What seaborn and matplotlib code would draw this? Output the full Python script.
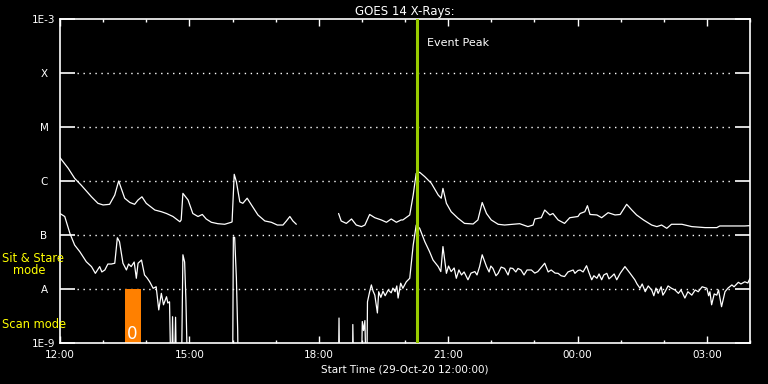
import numpy as np
import pandas as pd
import matplotlib
matplotlib.use("Agg")
import matplotlib.pyplot as plt
from matplotlib.ticker import FixedLocator, NullLocator
import seaborn as sns

# ---------------- data (hours after 29-Oct-20 12:00, flux W/m^2) ----------------
long_hours_a = [0.00, 0.19, 0.34, 0.49, 0.73, 0.88, 1.00, 1.15, 1.27, 1.36,
                1.42, 1.50, 1.62, 1.73, 1.81, 1.90, 2.00, 2.20, 2.35, 2.47,
                2.62, 2.78, 2.81, 2.85, 2.97, 3.08, 3.20, 3.30, 3.39, 3.51,
                3.66, 3.82, 3.97, 3.99, 4.04, 4.09, 4.17, 4.24, 4.34, 4.44,
                4.59, 4.75, 4.90, 5.04, 5.17, 5.25, 5.33, 5.40, 5.48]
long_flux_a = [2.70e-6, 1.72e-6, 1.12e-6, 8.4e-7, 5.1e-7, 3.86e-7, 3.6e-7, 3.7e-7, 5.5e-7, 1.0e-6,
               7.3e-7, 4.8e-7, 4.0e-7, 3.7e-7, 4.45e-7, 5.1e-7, 3.86e-7, 2.9e-7, 2.7e-7, 2.5e-7,
               2.2e-7, 1.76e-7, 1.9e-7, 5.9e-7, 4.45e-7, 2.5e-7, 2.2e-7, 2.4e-7, 1.98e-7, 1.72e-7,
               1.62e-7, 1.58e-7, 1.72e-7, 1.75e-7, 1.33e-6, 9.7e-7, 4.1e-7, 3.86e-7, 4.8e-7, 3.6e-7,
               2.35e-7, 1.82e-7, 1.72e-7, 1.53e-7, 1.53e-7, 1.82e-7, 2.2e-7, 1.82e-7, 1.58e-7]

long_hours_b = [6.46, 6.52, 6.64, 6.76, 6.87, 6.99, 7.07, 7.18, 7.30, 7.45,
                7.57, 7.68, 7.80, 7.91, 7.95, 8.11, 8.19, 8.26, 8.34, 8.46,
                8.61, 8.77, 8.84, 8.88, 8.96, 9.07, 9.23, 9.38, 9.58, 9.69,
                9.79, 9.89, 10.00, 10.16, 10.31, 10.50, 10.66, 10.85, 10.97, 11.01,
                11.16, 11.24, 11.36, 11.43, 11.55, 11.70, 11.82, 12.01, 12.06, 12.17,
                12.23, 12.29, 12.45, 12.56, 12.71, 12.87, 12.99, 13.14, 13.26, 13.37,
                13.53, 13.72, 13.84, 13.95, 14.07, 14.18, 14.42, 14.65, 14.96, 15.23,
                15.30, 15.88, 16.00]
long_flux_b = [2.5e-7, 1.82e-7, 1.64e-7, 1.98e-7, 1.53e-7, 1.43e-7, 1.53e-7, 2.4e-7, 2.09e-7, 1.9e-7,
               1.72e-7, 1.98e-7, 1.72e-7, 1.9e-7, 1.9e-7, 2.35e-7, 5.5e-7, 1.39e-6, 1.45e-6, 1.2e-6,
               9.1e-7, 5.5e-7, 4.8e-7, 7.3e-7, 3.86e-7, 2.7e-7, 2.04e-7, 1.64e-7, 1.6e-7, 1.9e-7,
               4.0e-7, 2.5e-7, 1.9e-7, 1.58e-7, 1.53e-7, 1.58e-7, 1.62e-7, 1.43e-7, 1.53e-7, 1.98e-7,
               2.09e-7, 2.9e-7, 2.35e-7, 2.5e-7, 1.9e-7, 1.64e-7, 2.09e-7, 2.2e-7, 2.5e-7, 2.7e-7,
               3.49e-7, 2.4e-7, 2.35e-7, 2.09e-7, 2.59e-7, 2.35e-7, 2.4e-7, 3.7e-7, 2.9e-7, 2.35e-7,
               1.9e-7, 1.53e-7, 1.43e-7, 1.53e-7, 1.33e-7, 1.58e-7, 1.58e-7, 1.43e-7, 1.37e-7, 1.37e-7,
               1.47e-7, 1.47e-7, 1.49e-7]

short_hours = [0.00, 0.11, 0.23, 0.34, 0.46, 0.61, 0.73, 0.82, 0.92, 0.97,
               1.04, 1.11, 1.19, 1.27, 1.33, 1.38, 1.46, 1.54, 1.59, 1.65,
               1.72, 1.77, 1.81, 1.89, 1.96, 2.02, 2.08, 2.16, 2.23, 2.29,
               2.35, 2.40, 2.47, 2.50, 2.54, 2.58, 2.61, 2.64, 2.68, 2.71,
               2.81, 2.85, 2.89, 2.92, 2.97, 4.00, 4.02, 4.05, 4.09, 4.12,
               4.14, 6.45, 6.47, 6.49, 6.78, 6.79, 6.82, 6.98, 7.01, 7.04,
               7.07, 7.11, 7.13, 7.18, 7.22, 7.26, 7.30, 7.36, 7.39, 7.44,
               7.49, 7.54, 7.61, 7.68, 7.72, 7.77, 7.81, 7.84, 7.90, 7.95,
               8.03, 8.11, 8.19, 8.26, 8.34, 8.46, 8.57, 8.65, 8.77, 8.83,
               8.88, 8.96, 9.01, 9.07, 9.14, 9.19, 9.25, 9.31, 9.37, 9.46,
               9.53, 9.62, 9.67, 9.73, 9.79, 9.89, 9.95, 9.99, 10.04, 10.11,
               10.16, 10.23, 10.31, 10.39, 10.44, 10.50, 10.57, 10.62, 10.69, 10.76,
               10.83, 10.93, 11.01, 11.08, 11.15, 11.24, 11.32, 11.39, 11.48, 11.55,
               11.62, 11.70, 11.78, 11.90, 11.94, 12.01, 12.06, 12.13, 12.21, 12.27,
               12.33, 12.38, 12.45, 12.50, 12.56, 12.61, 12.68, 12.73, 12.79, 12.85,
               12.91, 12.99, 13.10, 13.22, 13.33, 13.38, 13.45, 13.50, 13.57, 13.64,
               13.72, 13.77, 13.82, 13.87, 13.94, 13.98, 14.03, 14.10, 14.18, 14.26,
               14.34, 14.40, 14.49, 14.56, 14.65, 14.73, 14.80, 14.89, 15.00, 15.04,
               15.07, 15.11, 15.17, 15.23, 15.27, 15.34, 15.42, 15.49, 15.58, 15.63,
               15.73, 15.79, 15.88, 15.95, 16.00]
short_flux = [2.5e-7, 2.2e-7, 1.07e-7, 6.5e-8, 4.9e-8, 3.2e-8, 2.6e-8, 1.95e-8, 2.6e-8, 2.07e-8,
              2.25e-8, 2.9e-8, 2.9e-8, 3.0e-8, 8.9e-8, 7.5e-8, 3.0e-8, 2.25e-8, 2.9e-8, 2.6e-8,
              3.16e-8, 1.58e-8, 3.0e-8, 3.44e-8, 1.82e-8, 1.6e-8, 1.36e-8, 1.03e-8, 1.1e-8, 4.1e-9,
              8.3e-9, 5.1e-9, 7.2e-9, 5.5e-9, 5.8e-9, 1e-10, 3.07e-9, 1e-10, 3e-9, 1e-10,
              1e-10, 4.3e-8, 3.16e-8, 6.2e-9, 1e-10, 1e-10, 9.2e-8, 9e-8, 1.6e-8, 1.74e-9,
              1e-10, 1e-10, 2.9e-9, 1e-10, 1e-10, 2.2e-9, 1e-10, 1e-10, 2.5e-9, 1.7e-9,
              2.6e-9, 1e-10, 5.8e-9, 8.9e-9, 1.19e-8, 9.1e-9, 7.7e-9, 3.6e-9, 8.9e-9, 7.0e-9,
              9.1e-9, 7.5e-9, 9.6e-9, 8.5e-9, 1.04e-8, 8.9e-9, 1.14e-8, 6.8e-9, 1.28e-8, 1.03e-8,
              1.36e-8, 1.58e-8, 6.5e-8, 1.53e-7, 1.33e-7, 7.5e-8, 4.9e-8, 3.44e-8, 2.6e-8, 2.1e-8,
              6.1e-8, 1.95e-8, 2.66e-8, 2.1e-8, 2.45e-8, 1.58e-8, 2.25e-8, 1.82e-8, 2.07e-8, 1.48e-8,
              1.97e-8, 2.1e-8, 1.82e-8, 2.6e-8, 4.3e-8, 2.6e-8, 2.07e-8, 2.66e-8, 2.4e-8, 1.76e-8,
              1.95e-8, 2.55e-8, 2.4e-8, 1.82e-8, 2.45e-8, 2.4e-8, 2.07e-8, 2.4e-8, 2.25e-8, 1.82e-8,
              2.25e-8, 2.25e-8, 1.97e-8, 2.1e-8, 2.45e-8, 3.0e-8, 2.07e-8, 2.25e-8, 1.97e-8, 1.95e-8,
              1.76e-8, 1.7e-8, 2.07e-8, 2.25e-8, 1.95e-8, 2.2e-8, 2.25e-8, 2.07e-8, 2.7e-8, 1.97e-8,
              1.48e-8, 1.76e-8, 1.58e-8, 1.9e-8, 1.48e-8, 1.82e-8, 1.95e-8, 1.54e-8, 1.7e-8, 1.9e-8,
              1.48e-8, 1.95e-8, 2.6e-8, 1.95e-8, 1.48e-8, 1.24e-8, 1.03e-8, 1.24e-8, 8.9e-9, 1.14e-8,
              9.6e-9, 7.5e-9, 1.04e-8, 8.3e-9, 1.1e-8, 7.7e-9, 8.9e-9, 1.14e-8, 1.03e-8, 9.6e-9,
              8.3e-9, 9.6e-9, 6.8e-9, 8.9e-9, 7.7e-9, 9.6e-9, 8.9e-9, 1.1e-8, 1.03e-8, 7.5e-9,
              8.9e-9, 5.1e-9, 8.1e-9, 7.7e-9, 9.6e-9, 4.7e-9, 8.9e-9, 1.04e-8, 1.19e-8, 1.1e-8,
              1.33e-8, 1.24e-8, 1.36e-8, 1.29e-8, 1.58e-8]

event_peak_hour = 8.27
scan_start_hour = 1.51
scan_end_hour = 1.88
scan_bottom = 1e-9
scan_top = 1e-8
scan_label = "0"

y_tick_values = [1e-9, 1e-8, 1e-7, 1e-6, 1e-5, 1e-4, 1e-3]
y_tick_labels = ["1E-9", "A", "B", "C", "M", "X", "1E-3"]
class_levels = [1e-8, 1e-7, 1e-6, 1e-5, 1e-4]
x_major_hours = [0, 3, 6, 9, 12, 15]
x_major_labels = ["12:00", "15:00", "18:00", "21:00", "00:00", "03:00"]
x_minor_hours = list(range(0, 17))

title_text = "GOES 14 X-Rays:"
xlabel_text = "Start Time (29-Oct-20 12:00:00)"

# ---------------- style ----------------
sns.set_style("dark", {"axes.facecolor": "black", "figure.facecolor": "black",
                       "axes.edgecolor": "white", "text.color": "white",
                       "xtick.color": "white", "ytick.color": "white",
                       "axes.labelcolor": "white", "axes.grid": False})
plt.rcParams["font.family"] = ["DejaVu Sans"]

W, H = 768, 384
fig = plt.figure(figsize=(W / 100, H / 100), dpi=100, facecolor="black")
ax = fig.add_axes([60 / W, 41 / H, 690 / W, 324 / H])
ax.set_facecolor("black")

long_df = pd.concat([
    pd.DataFrame({"hours": long_hours_a, "flux": long_flux_a, "seg": 0}),
    pd.DataFrame({"hours": long_hours_b, "flux": long_flux_b, "seg": 1}),
], ignore_index=True)
short_df = pd.DataFrame({"hours": short_hours, "flux": short_flux, "seg": 0})

sns.lineplot(data=long_df, x="hours", y="flux", units="seg", estimator=None,
             color="white", lw=0.9, ax=ax, legend=False)
sns.lineplot(data=short_df, x="hours", y="flux", units="seg", estimator=None,
             color="white", lw=0.9, ax=ax, legend=False)

ax.set_yscale("log")
ax.set_xlim(0, 16)
ax.set_ylim(1e-9, 1e-3)

# class level dotted lines
for lv in class_levels:
    ax.axhline(lv, xmin=17 / 690, xmax=673 / 690, color="white", lw=1.0,
               ls=(0, (1.0, 3.3)), zorder=1)

# scan-mode bar
ax.bar(scan_start_hour, scan_top - scan_bottom, bottom=scan_bottom,
       width=scan_end_hour - scan_start_hour, align="edge", color="#ff8000",
       zorder=2, linewidth=0)
ax.text(scan_start_hour + 0.03, 1.2e-9, scan_label, color="white", fontsize=12,
        ha="left", va="baseline", zorder=3)

# event peak
ax.axvline(event_peak_hour, color="#99cc00", lw=2.2, zorder=4)
ax.text(event_peak_hour + 0.23, 0.926, "Event Peak", transform=ax.get_xaxis_transform(),
        color="white", fontsize=8, ha="left", va="center")

# ticks
ax.set_yticks(y_tick_values)
ax.set_yticklabels(y_tick_labels)
ax.yaxis.set_minor_locator(NullLocator())
ax.tick_params(axis="y", which="major", direction="in", length=10.8, width=1.2,
               left=True, right=True, pad=11.5, labelsize=7.5, colors="white")
for lbl in ax.get_yticklabels():
    lbl.set_horizontalalignment("center")

ax.xaxis.set_major_locator(FixedLocator(x_major_hours))
ax.set_xticklabels(x_major_labels)
ax.xaxis.set_minor_locator(FixedLocator(x_minor_hours))
ax.tick_params(axis="x", which="major", direction="in", length=5, width=1,
               top=True, bottom=True, pad=5, labelsize=7.5, colors="white")
ax.tick_params(axis="x", which="minor", direction="in", length=2.5, width=1,
               top=True, bottom=True, colors="white")

for sp in ax.spines.values():
    sp.set_color("white")
    sp.set_linewidth(1.2)
    sp.set_visible(True)

ax.set_xlabel(xlabel_text, fontsize=7.5, color="white", labelpad=3)
ax.set_ylabel("")
ax.set_title(title_text, fontsize=8.5, color="white", pad=3)

# mode labels
fig.text(2 / W, 1 - 259 / H, "Sit & Stare", color="#ffff00", fontsize=8.3,
         ha="left", va="center")
fig.text(13 / W, 1 - 271 / H, "mode", color="#ffff00", fontsize=8.3,
         ha="left", va="center")
fig.text(2 / W, 1 - 324 / H, "Scan mode", color="#ffff00", fontsize=8.3,
         ha="left", va="center")

fig.savefig("out.png", dpi=100, facecolor="black")
